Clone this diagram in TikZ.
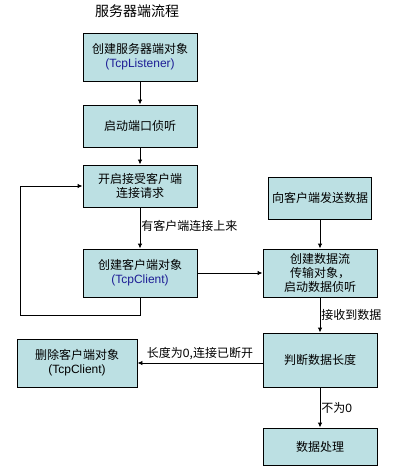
\documentclass[tikz,border=0pt]{standalone}
\usepackage{fontspec}
\setmainfont{Noto Sans CJK SC}
\newfontfamily\lat{Liberation Sans}
\usetikzlibrary{arrows.meta}
\definecolor{boxfill}{RGB}{188,224,227}
\definecolor{tcpblue}{RGB}{30,30,150}
\tikzset{
  flowbox/.style={draw=black, line width=0.9pt, fill=boxfill, rectangle, align=center,
    inner sep=0pt, font=\fontsize{12}{14}\selectfont},
  conn/.style={line width=0.9pt, -{Latex[length=5pt,width=4.5pt]}},
  lbl/.style={font=\fontsize{12}{14}\selectfont, inner sep=1pt}
}
\begin{document}
\begin{tikzpicture}[x=1pt,y=-1pt]
\useasboundingbox (0,0) rectangle (404,470);
\node[font=\fontsize{14}{16}\selectfont] (title) at (137,11) {服务器端流程};
\node[flowbox, minimum width=114pt, minimum height=48pt] (b1) at (140,57) {创建服务器端对象\\{\lat\color{tcpblue}(TcpListener)}};
\node[flowbox, minimum width=114pt, minimum height=42pt] (b2) at (140,126) {启动端口侦听};
\node[flowbox, minimum width=114pt, minimum height=42pt] (b3) at (140,186) {开启接受客户端\\连接请求};
\node[flowbox, minimum width=114pt, minimum height=48pt] (b4) at (140,273) {创建客户端对象\\{\lat\color{tcpblue}(TcpClient)}};
\node[flowbox, minimum width=103pt, minimum height=42pt] (b5) at (320,198) {向客户端发送数据};
\node[flowbox, minimum width=114pt, minimum height=48pt] (b6) at (320,273) {创建数据流\\传输对象，\\启动数据侦听};
\node[flowbox, minimum width=114pt, minimum height=54pt] (b7) at (320,360) {判断数据长度};
\node[flowbox, minimum width=120pt, minimum height=48pt] (b8) at (77,363) {删除客户端对象\\{\lat(TcpClient)}};
\node[flowbox, minimum width=114pt, minimum height=37pt] (b9) at (320,446.5) {数据处理};
\coordinate (l1) at (20,315);
\draw[conn] (b1) -- (b2);
\draw[conn] (b2) -- (b3);
\draw[conn] (b3) -- node[lbl, anchor=west, pos=0.45] (t1) {有客户端连接上来} (b4);
\draw[conn] (b4.south) |- (l1) |- (b3.west);
\draw[conn] (b4) -- (b6);
\draw[conn] (b5) -- (b6);
\draw[conn] (b6) -- node[lbl, anchor=west, pos=0.5] (t2) {接收到数据} (b7);
\draw[conn] (b7.west |- b8.east) -- node[lbl, above=2pt] (t3) {长度为{\lat 0},连接已断开} (b8.east);
\draw[conn] (b7) -- node[lbl, anchor=west, pos=0.5] (t4) {不为{\lat 0}} (b9);
\end{tikzpicture}
\end{document}
